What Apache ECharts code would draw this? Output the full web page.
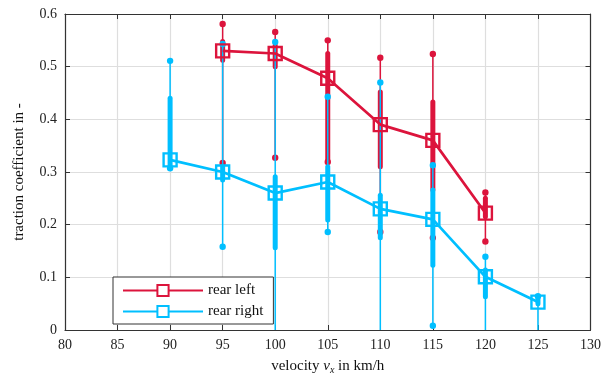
<!DOCTYPE html>
<html>
<head>
<meta charset="utf-8">
<script src="https://cdn.jsdelivr.net/npm/echarts@6/dist/echarts.min.js"></script>
<style>html,body{margin:0;padding:0;background:#fff;}#c{width:604px;height:380px;}</style>
</head>
<body>
<div id="c"></div>
<script>
// ---- data ----
const leftVel      = [95, 100, 105, 110, 115, 120];
const leftMean     = [0.530, 0.525, 0.478, 0.390, 0.360, 0.222];
const leftMax      = [0.581, 0.566, 0.550, 0.517, 0.524, 0.261];
const leftMin      = [0.317, 0.327, 0.319, 0.186, 0.175, 0.168];
const leftDenseHi  = [0.548, 0.540, 0.525, 0.452, 0.433, 0.250];
const leftDenseLo  = [0.512, 0.500, 0.319, 0.310, 0.266, 0.215];

const rightVel     = [90, 95, 100, 105, 110, 115, 120, 125];
const rightMean    = [0.323, 0.300, 0.260, 0.281, 0.230, 0.210, 0.101, 0.053];
const rightMax     = [0.511, 0.543, 0.547, 0.443, 0.470, 0.313, 0.139, 0.064];
const rightMin     = [0.307, 0.158, 0.000, 0.186, 0.000, 0.008, 0.000, 0.000];
const rightDenseHi = [0.440, 0.310, 0.291, 0.310, 0.256, 0.266, 0.114, 0.062];
const rightDenseLo = [0.307, 0.285, 0.156, 0.209, 0.175, 0.123, 0.063, 0.050];

const seriesNames = ['rear left', 'rear right'];
const xTicks = {min: 80, max: 130, step: 5};
const yTicks = {min: 0, max: 0.6, step: 0.1};

const RED = '#DC143C', BLUE = '#00BFFF';
const FONT = 'Liberation Serif';

function rawRenderer(color) {
  return function (params, api) {
    const x = api.value(0);
    const lo = api.value(1), hi = api.value(2);
    const p0 = api.coord([x, lo]), p1 = api.coord([x, hi]);
    const q0 = api.coord([x, api.value(3)]), q1 = api.coord([x, api.value(4)]);
    const children = [
      {type: 'line', shape: {x1: p0[0], y1: p0[1], x2: p1[0], y2: p1[1]}, style: {stroke: color, lineWidth: 1.5}},
      {type: 'line', shape: {x1: q0[0], y1: q0[1], x2: q1[0], y2: q1[1]}, style: {stroke: color, lineWidth: 5, lineCap: 'round'}},
      {type: 'circle', shape: {cx: p1[0], cy: p1[1], r: 3.2}, style: {fill: color}}
    ];
    if (lo > 0) children.push({type: 'circle', shape: {cx: p0[0], cy: p0[1], r: 3.2}, style: {fill: color}});
    return {type: 'group', children: children};
  };
}

const leftRaw = leftVel.map((v, i) => [v, leftMin[i], leftMax[i], leftDenseLo[i], leftDenseHi[i]]);
const rightRaw = rightVel.map((v, i) => [v, rightMin[i], rightMax[i], rightDenseLo[i], rightDenseHi[i]]);

const axisCol = '#333';
const gridCol = '#dedede';
const chart = echarts.init(document.getElementById('c'), null, {renderer: 'canvas'});
chart.setOption({
  animation: false,
  backgroundColor: '#fff',
  grid: {left: 65, right: 12, top: 14, bottom: 50, containLabel: false},
  legend: {
    orient: 'vertical', left: 113, top: 277,
    itemWidth: 80, itemHeight: 14, itemGap: 6,
    padding: [6, 10, 5, 9],
    borderColor: axisCol, borderWidth: 1, backgroundColor: '#fff',
    textStyle: {fontFamily: FONT, fontSize: 15, color: '#111'},
    data: [
      {name: seriesNames[0], itemStyle: {color: '#fff'}},
      {name: seriesNames[1], itemStyle: {color: '#fff'}}
    ]
  },
  xAxis: [
    {
      type: 'value', min: xTicks.min, max: xTicks.max, interval: xTicks.step,
      name: '{a|velocity }{i|v}{s|x}{a| in km/h}', nameLocation: 'middle', nameGap: 27,
      nameTextStyle: {
        fontFamily: FONT, fontSize: 15, color: '#111',
        rich: {
          a: {fontFamily: FONT, fontSize: 15, color: '#111'},
          i: {fontFamily: FONT, fontSize: 15, fontStyle: 'italic', color: '#111'},
          s: {fontFamily: FONT, fontSize: 10, fontStyle: 'italic', color: '#111', padding: [8, 0, 0, 0]}
        }
      },
      axisLine: {show: true, onZero: false, lineStyle: {color: axisCol, width: 1.2}},
      axisTick: {show: true, inside: true, length: 5, lineStyle: {color: axisCol}},
      axisLabel: {fontFamily: FONT, fontSize: 14, color: '#222', margin: 8},
      splitLine: {show: true, lineStyle: {color: gridCol, width: 1.2}}
    },
    {
      type: 'value', position: 'top', min: xTicks.min, max: xTicks.max, interval: xTicks.step,
      axisLine: {show: true, onZero: false, lineStyle: {color: axisCol, width: 1.2}},
      axisTick: {show: true, inside: true, length: 5, lineStyle: {color: axisCol}},
      axisLabel: {show: false}, splitLine: {show: false}
    }
  ],
  yAxis: [
    {
      type: 'value', min: yTicks.min, max: yTicks.max, interval: yTicks.step,
      name: 'traction coefficient in -', nameLocation: 'middle', nameGap: 38,
      nameTextStyle: {fontFamily: FONT, fontSize: 15, color: '#111'},
      axisLine: {show: true, onZero: false, lineStyle: {color: axisCol, width: 1.2}},
      axisTick: {show: true, inside: true, length: 5, lineStyle: {color: axisCol}},
      axisLabel: {fontFamily: FONT, fontSize: 14, color: '#222', margin: 8},
      splitLine: {show: true, lineStyle: {color: gridCol, width: 1.2}}
    },
    {
      type: 'value', position: 'right', min: yTicks.min, max: yTicks.max, interval: yTicks.step,
      axisLine: {show: true, onZero: false, lineStyle: {color: axisCol, width: 1.2}},
      axisTick: {show: true, inside: true, length: 5, lineStyle: {color: axisCol}},
      axisLabel: {show: false}, splitLine: {show: false}
    }
  ],
  series: [
    {
      name: 'rear left data', type: 'custom', clip: true, z: 2,
      renderItem: rawRenderer(RED), encode: {x: 0, y: [1, 2, 3, 4]}, data: leftRaw
    },
    {
      name: 'rear right data', type: 'custom', clip: true, z: 3,
      renderItem: rawRenderer(BLUE), encode: {x: 0, y: [1, 2, 3, 4]}, data: rightRaw
    },
    {
      name: seriesNames[0], type: 'line', z: 4,
      data: leftVel.map((v, i) => [v, leftMean[i]]),
      symbol: 'rect', symbolSize: 13, showAllSymbol: true,
      lineStyle: {color: RED, width: 2.7},
      itemStyle: {color: 'rgba(255,255,255,0)', borderColor: RED, borderWidth: 2.4}
    },
    {
      name: seriesNames[1], type: 'line', z: 5,
      data: rightVel.map((v, i) => [v, rightMean[i]]),
      symbol: 'rect', symbolSize: 13, showAllSymbol: true,
      lineStyle: {color: BLUE, width: 2.7},
      itemStyle: {color: 'rgba(255,255,255,0)', borderColor: BLUE, borderWidth: 2.4}
    }
  ]
});
</script>
</body>
</html>
